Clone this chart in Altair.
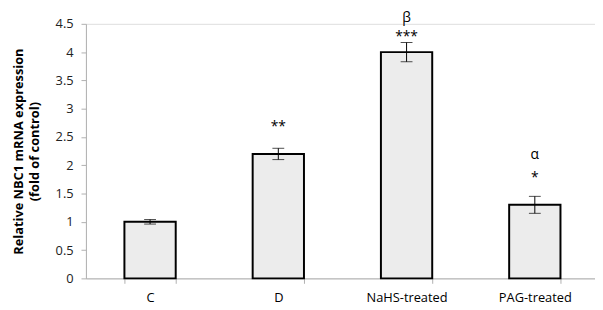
import altair as alt
import pandas as pd

groups = ["C", "D", "NaHS-treated", "PAG-treated"]
means = [1.0, 2.2, 4.0, 1.3]
errors = [0.04, 0.1, 0.17, 0.15]
stars = ["", "**", "***", "*"]
star_y = [None, 2.68, 4.26, 1.78]
greek = ["", "", "β", "α"]
greek_y = [None, None, 4.61, 2.18]
yticks = [0, 0.5, 1, 1.5, 2, 2.5, 3, 3.5, 4, 4.5]

df = pd.DataFrame({"group": groups, "mean": means, "err": errors})
df["lo"] = df["mean"] - df["err"]
df["hi"] = df["mean"] + df["err"]

star_df = pd.DataFrame({"group": groups, "label": stars, "y": star_y}).dropna()
greek_df = pd.DataFrame({"group": groups, "label": greek, "y": greek_y}).dropna()

FONT = "Open Sans"
TITLE = ["Relative NBC1 mRNA expression", "(fold of control)"]

xscale = alt.Scale(domain=groups, range=[0, 520], paddingInner=0.6, paddingOuter=0.3)
xaxis = alt.Axis(labelAngle=0, labelFont=FONT, labelFontSize=13, labelColor="#000",
                 domainColor="#b0b0b0", tickColor="#b0b0b0", tickBand="extent",
                 tickSize=5, labelPadding=8)
yscale = alt.Scale(domain=[0, 4.5], nice=False, zero=True)
yaxis = alt.Axis(values=yticks, labelOverlap=False, format=".1~f",
                 grid=False, labelFont=FONT, labelFontSize=13, labelColor="#222",
                 domain=True, domainColor="#b0b0b0", domainWidth=1,
                 tickColor="#b0b0b0", tickSize=5,
                 labelPadding=8, titleFont=FONT, titleFontSize=13,
                 titleFontWeight="bold", titleColor="#000", titlePadding=14,
                 titleLineHeight=16)

def X():
    return alt.X("group:N", scale=xscale, sort=groups, title=None, axis=xaxis)

def Y(field):
    return alt.Y(field, scale=yscale, title=TITLE, axis=yaxis)

bars = alt.Chart(df).mark_bar(fill="#ececec", stroke="#000", strokeWidth=2).encode(
    x=X(), y=Y("mean:Q"),
)
rules = alt.Chart(df).mark_rule(color="#000", strokeWidth=1).encode(
    x=X(), y=Y("lo:Q"), y2="hi:Q",
)
caps_lo = alt.Chart(df).mark_tick(color="#000", thickness=1, size=12).encode(
    x=X(), y=Y("lo:Q"),
)
caps_hi = alt.Chart(df).mark_tick(color="#000", thickness=1, size=12).encode(
    x=X(), y=Y("hi:Q"),
)
star_text = alt.Chart(star_df).mark_text(font=FONT, fontSize=14, color="#000", baseline="middle").encode(
    x=X(), y=Y("y:Q"), text="label:N",
)
greek_text = alt.Chart(greek_df).mark_text(font=FONT, fontSize=14, color="#000", baseline="middle").encode(
    x=X(), y=Y("y:Q"), text="label:N",
)

chart = alt.layer(bars, rules, caps_lo, caps_hi, star_text, greek_text).properties(
    width=516, height=258,
    autosize=alt.AutoSizeParams(type="none"),
    padding={"left": 79, "top": 14, "right": 0, "bottom": 30},
).configure_view(stroke=None).configure(background="white")

chart.save("out.html", embed_options={"renderer": "svg", "actions": False})
